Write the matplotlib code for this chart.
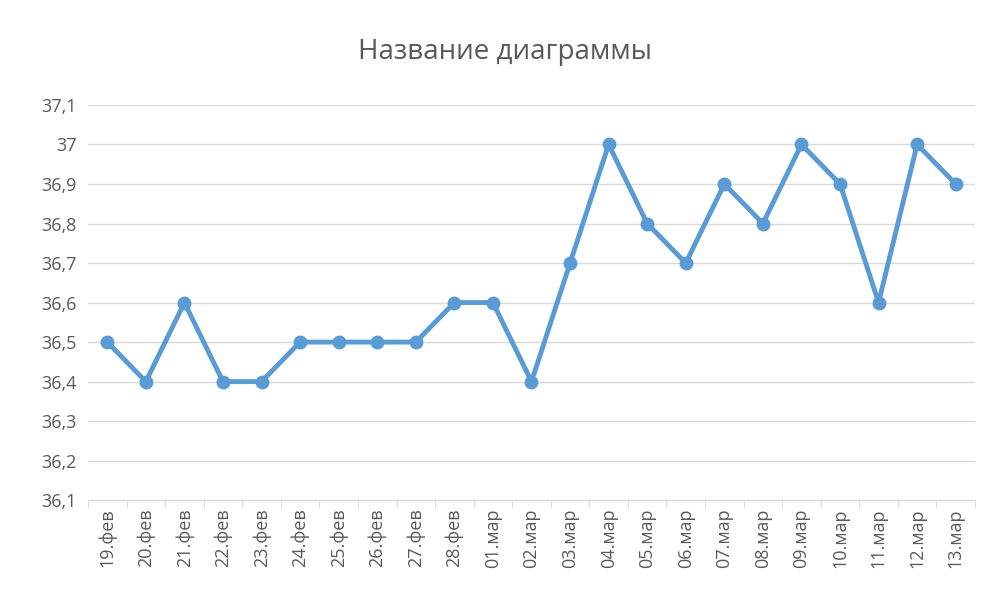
import matplotlib
matplotlib.use("Agg")
import matplotlib.pyplot as plt

labels = ["19.фев","20.фев","21.фев","22.фев","23.фев","24.фев","25.фев","26.фев","27.фев","28.фев",
          "01.мар","02.мар","03.мар","04.мар","05.мар","06.мар","07.мар","08.мар","09.мар","10.мар",
          "11.мар","12.мар","13.мар"]
values = [36.5,36.4,36.6,36.4,36.4,36.5,36.5,36.5,36.5,36.6,36.6,36.4,36.7,37.0,36.8,36.7,36.9,36.8,37.0,36.9,36.6,37.0,36.9]
yticks = [36.1,36.2,36.3,36.4,36.5,36.6,36.7,36.8,36.9,37.0,37.1]
ytick_labels = ["36,1","36,2","36,3","36,4","36,5","36,6","36,7","36,8","36,9","37","37,1"]

plt.rcParams['font.family'] = ['Open Sans', 'DejaVu Sans']
fig = plt.figure(figsize=(10, 6.1), dpi=100)
ax = fig.add_axes([0.088, 0.18, 0.887, 0.648])
x = list(range(len(labels)))
ax.plot(x, values, color="#5B9BD5", lw=3.5, marker="o", ms=9, zorder=3)
ax.set_xlim(-0.5, len(labels) - 0.5)
ax.set_ylim(36.1, 37.1)
ax.set_yticks(yticks)
ax.set_yticklabels(ytick_labels, fontsize=13, color="#595959")
ax.set_xticks(x)
ax.set_xticklabels(labels, rotation=90, fontsize=13, color="#595959")
ax.set_xticks([i - 0.5 for i in range(len(labels) + 1)], minor=True)
ax.tick_params(axis="x", which="major", length=0, pad=6)
ax.tick_params(axis="x", which="minor", length=6, color="#D9D9D9")
ax.tick_params(axis="y", length=0, pad=8)
ax.grid(axis="y", color="#D9D9D9", lw=1)
for s in ["top", "right", "left"]:
    ax.spines[s].set_visible(False)
ax.spines["bottom"].set_color("#D9D9D9")
ax.set_axisbelow(True)
fig.text(0.505, 0.915, "Название диаграммы", ha="center", va="center", fontsize=20, color="#595959")
fig.savefig("out.png")
